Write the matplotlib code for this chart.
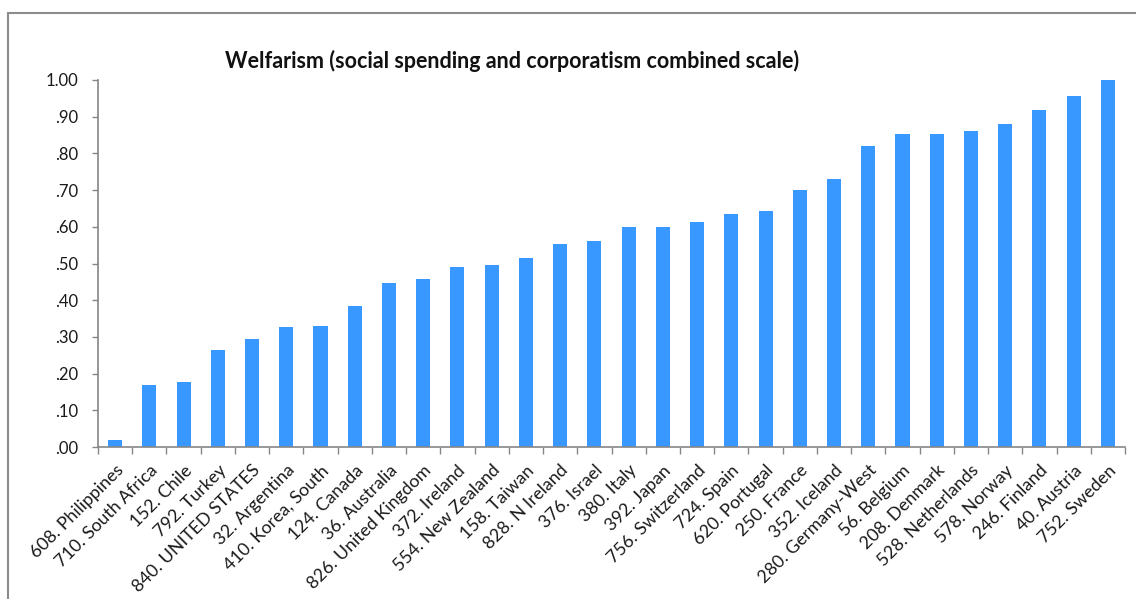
import matplotlib
matplotlib.use("Agg")
import matplotlib.pyplot as plt
from matplotlib.patches import Rectangle
from matplotlib.ticker import FuncFormatter
import numpy as np

plt.rcParams['font.family'] = ['Lato', 'DejaVu Sans']

countries = [
    "608. Philippines", "710. South Africa", "152. Chile", "792. Turkey",
    "840. UNITED STATES", "32. Argentina", "410. Korea, South", "124. Canada",
    "36. Australia", "826. United Kingdom", "372. Ireland", "554. New Zealand",
    "158. Taiwan", "828. N Ireland", "376. Israel", "380. Italy", "392. Japan",
    "756. Switzerland", "724. Spain", "620. Portugal", "250. France",
    "352. Iceland", "280. Germany-West", "56. Belgium", "208. Denmark",
    "528. Netherlands", "578. Norway", "246. Finland", "40. Austria",
    "752. Sweden",
]
welfarism = [
    0.019, 0.169, 0.176, 0.264, 0.293, 0.326, 0.331, 0.384, 0.447, 0.457,
    0.490, 0.495, 0.515, 0.554, 0.561, 0.599, 0.599, 0.612, 0.635, 0.642,
    0.700, 0.731, 0.820, 0.853, 0.853, 0.860, 0.881, 0.919, 0.956, 1.000,
]

fig = plt.figure(figsize=(11.36, 5.99), dpi=100)
ax = fig.add_axes([98/1136, 1-447/599, (1125-98)/1136, (447-80)/599])

x = np.arange(len(countries))
ax.bar(x, welfarism, width=0.41, color='#3898FF')

ax.set_xlim(-0.5, len(countries) - 0.5)
ax.set_ylim(0, 1.0)

# tick marks sit between the bars, labels under each bar
ax.set_xticks(np.arange(len(countries) + 1) - 0.5)
ax.set_xticklabels([])
ax.set_xticks(x, minor=True)
ax.set_xticklabels(countries, minor=True, rotation=45, ha='right',
                   rotation_mode='anchor', fontsize=12.8, color='#1a1a1a')
ax.tick_params(axis='x', which='major', length=5, color='#868686', width=1)
ax.tick_params(axis='x', which='minor', length=0, pad=11)

ax.set_yticks(np.arange(0, 1.01, 0.1))
ax.yaxis.set_major_formatter(FuncFormatter(
    lambda v, p: f"{v:.2f}" if v >= 1 else f"{v:.2f}"[1:]))
ax.tick_params(axis='y', length=4, color='#868686', width=1,
               labelsize=12, labelcolor='#1a1a1a', pad=10)

for s in ['top', 'right']:
    ax.spines[s].set_visible(False)
for s in ['left', 'bottom']:
    ax.spines[s].set_color('#868686')
    ax.spines[s].set_linewidth(1.2)

fig.text(512/1136, 1-61/599,
         "Welfarism (social spending and corporatism combined scale)",
         ha='center', va='center', fontsize=15.5, fontweight='bold',
         color='#111111')

# chart frame
fig.patches.append(Rectangle((8/1136, -0.1), 1.0, 1 - 13/599 + 0.1,
                             transform=fig.transFigure, fill=False,
                             edgecolor='#8c8c8c', linewidth=1.5))

fig.savefig("out.png", dpi=100)
